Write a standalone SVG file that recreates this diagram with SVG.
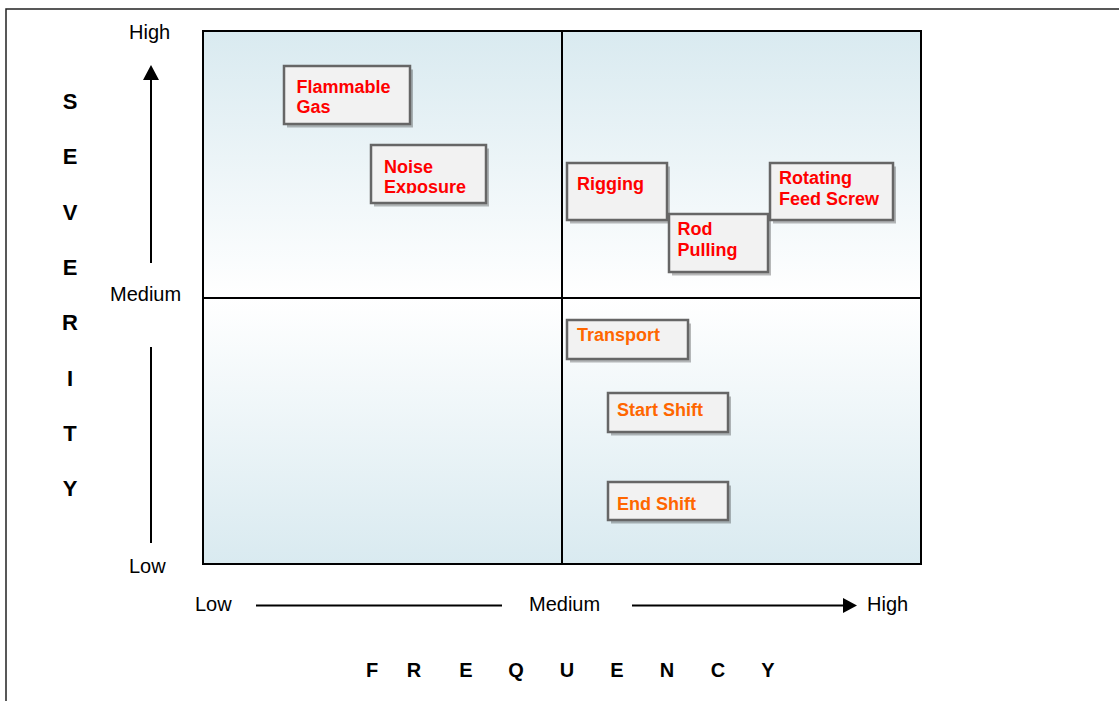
<svg xmlns="http://www.w3.org/2000/svg" width="1119" height="701" viewBox="0 0 1119 701">
<style>
.ax{font-family:"Liberation Sans",Arial,sans-serif;font-size:20px;fill:#000}
.big{font-family:"Liberation Sans",Arial,sans-serif;font-size:22px;font-weight:bold;fill:#000;text-anchor:middle}
.fq{font-family:"Liberation Sans",Arial,sans-serif;font-size:20px;font-weight:bold;fill:#000;text-anchor:middle}
.box{fill:#f2f2f2;stroke:#666;stroke-width:2.5}
.sh{fill:#000;opacity:0.27}
.red{font-family:"Liberation Sans",Arial,sans-serif;font-size:18px;font-weight:bold;fill:#ff0000}
.org{font-family:"Liberation Sans",Arial,sans-serif;font-size:18px;font-weight:bold;fill:#ff6600}
.ln{stroke:#000;stroke-width:2;fill:none}
</style>
<defs>
<linearGradient id="gTop" x1="0" y1="0" x2="0" y2="1">
<stop offset="0" stop-color="#d9eaf0"/>
<stop offset="1" stop-color="#ffffff"/>
</linearGradient>
<linearGradient id="gBot" x1="0" y1="0" x2="0" y2="1">
<stop offset="0" stop-color="#ffffff"/>
<stop offset="1" stop-color="#d9eaf0"/>
</linearGradient>
<clipPath id="cFG"><rect x="284" y="66" width="126" height="48.5"/></clipPath>
<clipPath id="cNE"><rect x="371" y="145" width="115" height="48.5"/></clipPath>
</defs>
<rect x="0" y="0" width="1119" height="701" fill="#fff"/>
<rect x="6" y="9" width="1200" height="800" fill="none" stroke="#222" stroke-width="1.5"/>

<g id="chart">
<rect x="203" y="31" width="718" height="267" fill="url(#gTop)"/>
<rect x="203" y="298" width="718" height="266" fill="url(#gBot)"/>
<rect x="203" y="31" width="718" height="533" class="ln"/>
<line x1="562" y1="31" x2="562" y2="564" class="ln"/>
<line x1="203" y1="298" x2="921" y2="298" class="ln"/>
</g>

<g id="axis-labels">
<text class="ax" x="129" y="39">High</text>
<text class="ax" x="110" y="301">Medium</text>
<text class="ax" x="129" y="572.5">Low</text>
<text class="ax" x="195" y="611">Low</text>
<text class="ax" x="529" y="611">Medium</text>
<text class="ax" x="867" y="611">High</text>
<text class="big" x="70" y="108.5">S</text>
<text class="big" x="70" y="164">E</text>
<text class="big" x="70" y="219.5">V</text>
<text class="big" x="70" y="275">E</text>
<text class="big" x="70" y="330">R</text>
<text class="big" x="70" y="385.5">I</text>
<text class="big" x="70" y="441">T</text>
<text class="big" x="70" y="496">Y</text>
<text class="fq" x="372" y="677">F</text>
<text class="fq" x="414" y="677">R</text>
<text class="fq" x="466" y="677">E</text>
<text class="fq" x="516" y="677">Q</text>
<text class="fq" x="567" y="677">U</text>
<text class="fq" x="617" y="677">E</text>
<text class="fq" x="667" y="677">N</text>
<text class="fq" x="718" y="677">C</text>
<text class="fq" x="768" y="677">Y</text>
</g>

<g id="connectors">
<line x1="151" y1="263" x2="151" y2="79" class="ln"/>
<polygon points="151,65 143,80 159,80" fill="#000"/>
<line x1="151" y1="347" x2="151" y2="543" class="ln"/>
<line x1="256" y1="605.5" x2="502" y2="605.5" class="ln"/>
<line x1="632" y1="605.5" x2="844" y2="605.5" class="ln"/>
<polygon points="843,598 857,605.5 843,613" fill="#000"/>
</g>

<g id="node-flammable-gas">
<rect x="287" y="69.5" width="126" height="58" class="sh"/>
<rect x="284" y="66" width="126" height="58" class="box"/>
<g clip-path="url(#cFG)">
<text class="red" x="296.5" y="92.7">Flammable</text>
<text class="red" x="296.5" y="113.3">Gas</text>
</g>
</g>
<g id="node-noise-exposure">
<rect x="374" y="148.5" width="115" height="58" class="sh"/>
<rect x="371" y="145" width="115" height="58" class="box"/>
<g clip-path="url(#cNE)">
<text class="red" x="384" y="172.7">Noise</text>
<text class="red" x="384" y="192.5">Exposure</text>
</g>
</g>
<g id="node-rigging">
<rect x="570" y="166.5" width="100" height="57" class="sh"/>
<rect x="567" y="163" width="100" height="57" class="box"/>
<text class="red" x="577" y="189.5">Rigging</text>
</g>
<g id="node-rod-pulling">
<rect x="672" y="217.5" width="99" height="58" class="sh"/>
<rect x="669" y="214" width="99" height="58" class="box"/>
<text class="red" x="677.5" y="235">Rod</text>
<text class="red" x="677.5" y="256">Pulling</text>
</g>
<g id="node-rotating-feed-screw">
<rect x="773" y="166.5" width="123" height="57" class="sh"/>
<rect x="770" y="163" width="123" height="57" class="box"/>
<text class="red" x="779" y="184.3">Rotating</text>
<text class="red" x="779" y="205">Feed Screw</text>
</g>
<g id="node-transport">
<rect x="570" y="323.5" width="121" height="39" class="sh"/>
<rect x="567" y="320" width="121" height="39" class="box"/>
<text class="org" x="577" y="341">Transport</text>
</g>
<g id="node-start-shift">
<rect x="611" y="396.5" width="120" height="39" class="sh"/>
<rect x="608" y="393" width="120" height="39" class="box"/>
<text class="org" x="617" y="416">Start Shift</text>
</g>
<g id="node-end-shift">
<rect x="611" y="485.5" width="120" height="38" class="sh"/>
<rect x="608" y="482" width="120" height="38" class="box"/>
<text class="org" x="617" y="510">End Shift</text>
</g>
</svg>
